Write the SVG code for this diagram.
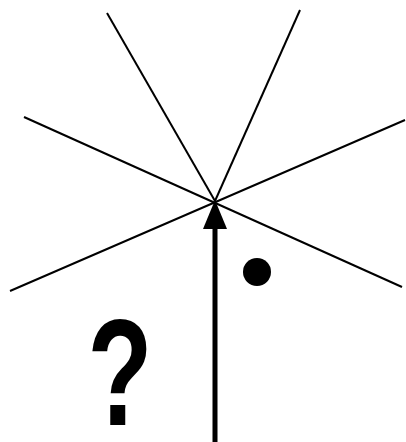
<svg xmlns="http://www.w3.org/2000/svg" width="406" height="442" viewBox="0 0 406 442">
<style>
.ray{stroke:#000;stroke-width:2;fill:none}
.q{font-family:"Liberation Sans",Arial,sans-serif;font-weight:bold;fill:#000}
</style>
<rect width="406" height="442" fill="#fff"/>
<g id="rays">
<line class="ray" x1="107" y1="13" x2="215" y2="201"/>
<line class="ray" x1="300" y1="10" x2="215" y2="201"/>
<line class="ray" x1="24" y1="117" x2="402" y2="287"/>
<line class="ray" x1="10" y1="291" x2="405" y2="120"/>
</g>
<g id="connectors">
<line x1="215" y1="442" x2="215" y2="226" stroke="#000" stroke-width="5"/>
<path d="M215,200 L203,229 L227,229 z" fill="#000"/>
</g>
<g id="dot"><circle cx="257" cy="272" r="14" fill="#000"/></g>
<g id="question"><text class="q" x="0" y="0" font-size="152" text-anchor="middle" transform="translate(120,425) scale(0.7,1)">?</text></g>
</svg>
